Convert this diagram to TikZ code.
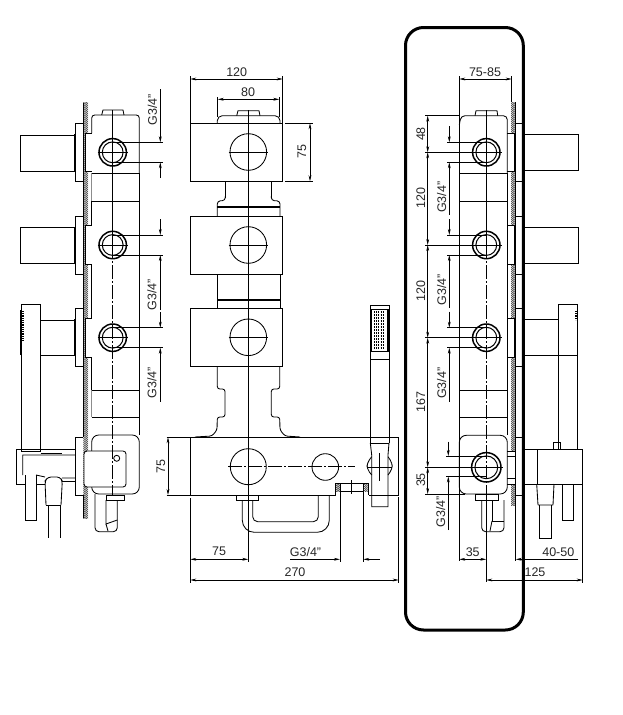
\documentclass[tikz,border=0pt]{standalone}
\usepackage{fontspec}
\setmainfont{Liberation Sans}
\usetikzlibrary{arrows.meta}
\tikzset{
  x=1pt,y=-1pt,
  ln/.style={line width=0.85pt,black},
  dim/.style={line width=0.65pt,black},
  arrs/.style={dim,{Stealth[length=6pt,width=2.8pt]}-{Stealth[length=6pt,width=2.8pt]}},
  arre/.style={dim,-{Stealth[length=6pt,width=2.8pt]}},
  center line/.style={line width=0.75pt,black,dash pattern=on 14pt off 2pt on 2pt off 2pt},
  lab/.style={inner sep=0pt,font=\fontsize{12.5pt}{13pt}\selectfont,text=black!85},
  rlab/.style={lab,rotate=90},
  soft/.style={line width=0.8pt,black!45},
}
\newcommand{\hatchbar}[4]{%
  \begin{scope}
    \clip (#1,#2) rectangle (#3,#4);
    \pgfmathtruncatemacro{\nn}{(#4-#2)/2+1}
    \foreach \k in {-4,...,\nn}{\draw[line width=0.4pt,black] (#1,#2+2*\k+6) -- (#3,#2+2*\k);}
  \end{scope}}
\newcommand{\ring}[3]{%
  \draw[line width=1.5pt] (#1,#2) circle[radius=#3pt-0.3pt];
  \draw[line width=1pt] (#1,#2) circle[radius=#3pt-3.6pt];}
\begin{document}
\begin{tikzpicture}[ln]
\useasboundingbox (0,0) rectangle (623,715);
\fill[white] (0,0) rectangle (623,715);

% ===== frame
\draw[line width=3pt,rounded corners=18pt] (405.5,27.5) rectangle (523.3,630);

% ===== LEFT VIEW
\hatchbar{83.3}{102.7}{88}{518}
\draw (83.3,102.7) -- (83.3,437) (83.3,495) -- (83.3,518);
% handles, flanges, cartridges
\draw (74.7,135) -- (20.3,135) -- (20.3,171.7) -- (74.7,171.7);
\draw (74.7,227.3) -- (20.3,227.3) -- (20.3,263.3) -- (74.7,263.3);
\draw (74.7,320.7) -- (40.7,320.7) (40.7,355) -- (74.7,355);
\foreach \a/\b/\c/\d in {123.3/181/133.3/171.7,216.7/274.3/225.7/264.3,308/366/318/357}{
  \draw (83.3,\a) -- (75.3,\a) -- (75.3,\b) -- (83.3,\b);
  \draw (74.7,\a+11) -- (74.7,\b-10);
  \fill[white] (85.3,\c) rectangle (91.7,\d);
  \draw (91.7,\c) -- (85.3,\c) -- (85.3,\d) -- (91.7,\d);
}
% body
\draw[rounded corners=3pt] (91.7,133) -- (91.7,115) -- (139.3,115) -- (139.3,173.3);
\draw (101.7,115) -- (103,110) -- (123,110) -- (124,115);
\draw (91.7,173.3) -- (139.3,173.3) (91.7,201.3) -- (139.3,201.3);
\draw[soft] (91.7,173.3) -- (91.7,201.3);
\draw (139.3,173.3) -- (139.3,435) (91.7,201.3) -- (91.7,225) (91.7,264) -- (91.7,318) (91.7,357) -- (91.7,390);
\draw (91.7,390) -- (139.3,390) (91.7,417.3) -- (139.3,417.3);
\draw[soft] (91.7,390) -- (91.7,417.3);
\fill[white,rounded corners=7pt] (91.7,435) rectangle (139.3,494);
\draw[rounded corners=7pt] (91.7,451) -- (91.7,435) -- (139.3,435) -- (139.3,494) -- (91.7,494) -- (91.7,486);
\fill[white,rounded corners=3pt] (84,451) rectangle (126,487);
\draw[rounded corners=3pt] (84,451) -- (126,451) -- (126,487) -- (84,487) -- cycle;
\draw (116.7,458.3) circle[radius=3pt];
\draw (83.3,437.3) -- (75.3,437.3) -- (75.3,495) -- (83.3,495);
% arm and bracket
\draw (75.3,455) -- (22.7,455) -- (22.7,475) (36,475) -- (45,477) (62,478) -- (75.3,478);
\draw (42,449) -- (16.3,449) -- (16.3,484) -- (25.3,484);
\draw (42,449) -- (75.3,449) (40.7,453) -- (62,453) (36.7,484) -- (45,484) (62,481) -- (75.3,481);
% hand shower
\draw (21.7,304.7) rectangle (40.3,451.7);
\draw[line width=1.2pt] (21.7,304.7) -- (40.3,304.7);
\draw[line width=1pt] (20.3,310) -- (20.3,355);
\draw[line width=1.4pt,dash pattern=on 1pt off 0.8pt] (23,311) -- (23,341);
% hoses
\draw (25.3,475) -- (25.3,520) -- (36.7,520) -- (36.7,475);
\draw[rounded corners=3pt] (46,505) -- (45,481) -- (48,477) -- (60,477) -- (62.3,481) -- (61,505);
\draw (46,505) -- (61,505) (48.3,505) -- (48.3,538) (60,505) -- (60,538);
% pipe below
\draw (106,495) rectangle (124,500);
\draw[rounded corners=4pt] (95,494) -- (95,531.7) -- (117.3,531.7) -- (117.3,500);
\draw (106,500) -- (106,524) -- (117.3,520);
\draw[rounded corners=3pt] (108,531) -- (106,524);
% circles, extension and dimension lines
\foreach \yy in {152.3,245,337.7}{
  \ring{112.7}{\yy}{14}
  \draw (97.5,\yy) -- (128,\yy);
  \draw (112.7,\yy-10) -- (163,\yy-10) (112.7,\yy+10) -- (163,\yy+10);
}
\draw (112.7,110) -- (112.7,245);
\draw[center line] (112.7,245) -- (112.7,495);
\draw[arre] (160.3,89) -- (160.3,142.3);
\draw[arre] (160.3,178) -- (160.3,162.3);
\draw[arre] (160.3,219) -- (160.3,235);
\draw[arre] (160.3,310) -- (160.3,255);
\draw[arre] (160.3,312) -- (160.3,327.7);
\draw[arre] (160.3,401.7) -- (160.3,347.7);
\node[rlab] (gl1) at (152.5,110) {G3/4"};
\node[rlab] (gl2) at (152,295) {G3/4"};
\node[rlab] (gl3) at (152,383) {G3/4"};
\draw (166.7,437.3) -- (190.3,437.3) (166.7,495.3) -- (190.3,495.3);
\draw[arrs] (168,437.3) -- (168,495);
\node[rlab] (d75l) at (161,466.5) {75};

% ===== MIDDLE VIEW
\foreach \a/\b/\cy in {123.3/181.3/152,216.3/274.3/245,308.3/366.3/337.3}{
  \draw (190.3,\a) rectangle (282.7,\b);
  \draw (248.3,\cy) circle[radius=18.3pt];
  \draw (228.5,\cy) -- (268,\cy);
}
\draw (190.3,437.3) rectangle (398.7,495.3);
\draw[white,line width=1.4pt] (335.7,495.3) -- (368.7,495.3);
\draw (248.3,466.7) circle[radius=18pt];
\draw (325.3,467) circle[radius=13.3pt];
\draw[center line] (228,466.7) -- (355,466.7);
\draw (248.3,110) -- (248.3,500);
% top plate
\draw[rounded corners=5pt] (217.3,123.3) -- (217.3,115.7) -- (280,115.7) -- (280,123.3);
\draw (236.7,115.7) -- (238,110.7) -- (259,110.7) -- (260,115.7);
% between boxes
\draw (225.3,181.3) -- (225.3,198);
\draw[rounded corners=3pt] (225.3,196) -- (225.3,200.5) -- (217.3,201) -- (217.3,216.3);
\draw (271.3,181.3) -- (271.3,198);
\draw[rounded corners=3pt] (271.3,196) -- (271.3,200.5) -- (280,201) -- (280,216.3);
\draw[line width=1.6pt] (217.3,207) -- (280,207);
\draw (217.3,274.3) -- (217.3,308.3) (280,274.3) -- (280,308.3);
\draw[line width=1.6pt] (217.3,300) -- (280,300);
\draw[rounded corners=2.5pt] (217.3,366.3) -- (217.3,389) -- (225,389) -- (225,417) -- (217.3,417) -- (217,430) -- (212,436) -- (195,437);
\draw[rounded corners=2.5pt] (279.7,366.3) -- (279.7,389) -- (271.3,389) -- (271.3,417) -- (279.7,417) -- (280,430) -- (285,436) -- (300,437);
% nut and U pipe
\draw (236.7,495.3) rectangle (258.7,500.7);
\draw[rounded corners=12pt] (242.3,500.7) -- (242.3,532.3) -- (329.3,532.3) -- (329.3,495.3);
\draw[rounded corners=5pt] (252.7,500.7) -- (252.7,521.7) -- (318.3,521.7) -- (318.3,495.3);
% notch
\draw (335.7,495.3) -- (335.7,483.3) -- (368.7,483.3) -- (368.7,495.3);
\draw (340,484) -- (340,491.7) (363.3,484) -- (363.3,491.7) (340,491.7) -- (363.3,491.7);
\hatchbar{336}{484}{340.5}{491.7}
\hatchbar{363}{484}{368.5}{491.7}
\draw (351,480) -- (351,494);
% shower
\draw (370.3,305) rectangle (389,359);
\draw (370.3,359) -- (370.3,443) (389,359) -- (389,443);
\draw (370.3,443) -- (389,443);
\draw[line width=1.1pt] (371.2,309.3) rectangle (388,351.7);
\foreach \yy in {312,315,...,348}{
  \draw[line width=1.1pt,dash pattern=on 1pt off 1.2pt] (374,\yy) -- (385,\yy);
}
\draw (370.3,443) -- (371.7,455) -- (371.7,506.7) -- (388,506.7) -- (388,455) -- (389,443);
\draw[rounded corners=4pt] (371.7,456.7) -- (367,463) -- (367,469) -- (371.7,475);
\draw[rounded corners=4pt] (388,456.7) -- (392.3,463) -- (392.3,469) -- (388,475);
\draw (379.3,453) -- (379.3,480.7);
\draw (366.7,467) -- (392.3,467);
% dimensions top
\draw[dim] (190.3,76) -- (190.3,123.3) (282.7,76) -- (282.7,123.3);
\draw[arrs] (190.3,79) -- (282.7,79);
\node[lab] (d120) at (236.7,71.7) {120};
\draw[dim] (217.7,97) -- (217.7,117) (279.3,97) -- (279.3,117);
\draw[arrs] (217.7,99.3) -- (279.3,99.3);
\node[lab] (d80) at (248,91.7) {80};
\draw[dim] (285,123.3) -- (312.7,123.3) (285,181.3) -- (312.7,181.3);
\draw[arrs] (310,123.3) -- (310,181.3);
\node[rlab] (d75r) at (302,151.7) {75};
% dimensions bottom
\draw[dim] (190.3,498) -- (190.3,582.7) (248.3,500) -- (248.3,561.7) (398.7,497) -- (398.7,582.7);
\draw[dim] (340,491.7) -- (340,562) (363.3,491.7) -- (363.3,562);
\draw[arrs] (190.3,559.3) -- (248.3,559.3);
\node[lab] (d75b) at (219,551.7) {75};
\draw[arre] (290,559.3) -- (340,559.3);
\draw[arre] (380,559.3) -- (363.3,559.3);
\node[lab] (dgb) at (305.5,551.7) {G3/4"};
\draw[arrs] (190.3,580) -- (398.7,580);
\node[lab] (d270) at (295,572.3) {270};

% ===== RIGHT VIEW
\hatchbar{511}{102.3}{515.7}{505}
\draw (515.7,102.3) -- (515.7,505);
\foreach \a/\b/\c/\d in {123.3/181/133.3/171,216/274.3/225.7/264,308.3/366.3/318.3/357.7}{
  \draw (515.7,\a) -- (523,\a) (515.7,\b) -- (523,\b);
  \fill[white] (507.3,\c) rectangle (514,\d);
  \draw (507.3,\c) -- (514,\c) -- (514,\d) -- (507.3,\d);
}
\draw (515.7,437) -- (523,437) (515.7,495) -- (523,495);
\fill[white] (507.3,451) rectangle (515.7,484);
\draw (507.3,451) -- (515.7,451) (507.3,456) -- (515.7,456) (507.3,478) -- (515.7,478) (507.3,484) -- (515.7,484) (515.7,451) -- (515.7,484);
% handles
\draw (524.3,134.3) -- (578.3,134.3) -- (578.3,170.3) -- (524.3,170.3);
\draw (524.3,227.3) -- (578.3,227.3) -- (578.3,263.3) -- (524.3,263.3);
\draw (524.3,319.3) -- (558.3,319.3) (524.3,355) -- (578,355);
% shower
\draw (558.3,449) -- (558.3,304.3) -- (577.3,304.3) -- (577.3,449);
\draw[line width=1.2pt,dash pattern=on 1pt off 0.8pt] (576,311) -- (576,320);
\draw (553.3,449) -- (553.3,442.3) -- (560.7,442.3) -- (560.7,449);
% block
\draw (537.7,449.3) rectangle (582.7,484);
\draw (524.3,449.3) -- (537.7,449.3) (524.3,484) -- (537.7,484);
\draw (536.7,484) -- (538,505) (554,484) -- (553,505) (538,505) -- (553,505);
\draw (539,505) -- (539,538.3) (551.7,505) -- (551.7,538.3) (539,538.3) -- (551.7,538.3);
\draw (562.3,484) -- (562.3,520) -- (573.3,520) -- (573.3,484);
% body
\draw[rounded corners=4pt] (459.3,125) -- (461,115.7) -- (507.3,115.7) -- (507.3,173.3);
\draw (475,115.7) -- (476,110.7) -- (497,110.7) -- (497.7,115.7);
\draw (459.3,76) -- (459.3,560.7);
\draw (507.3,173.3) -- (507.3,435);
\draw (459.3,173.3) -- (507.3,173.3) (459.3,201.3) -- (507.3,201.3);
\draw (459.3,390) -- (507.3,390) (459.3,417.3) -- (507.3,417.3);
\draw[rounded corners=7pt] (459.3,435.3) rectangle (507.3,494);
\draw (475.3,494) rectangle (498.7,500);
\draw[rounded corners=4pt] (481.7,500) -- (481.7,531.7) -- (504,531.7) -- (504,500);
\draw (492,500) -- (492,521) -- (504,521);
\draw[rounded corners=3pt] (492,521) -- (490,531);
% circles
\foreach \yy in {152.3,245,337.7}{
  \ring{486.3}{\yy}{14}
  \draw (425,\yy) -- (501.7,\yy);
  \draw (447,\yy-10) -- (486.3,\yy-10) (447,\yy+10) -- (486.3,\yy+10);
}
\ring{486.3}{467.3}{15}
\draw (425,467.3) -- (503,467.3);
\draw (446,456) -- (486.3,456) (446,476.5) -- (486.3,476.5);
\draw (486.3,110) -- (486.3,245);
\draw[center line] (486.3,245) -- (486.3,495);
\draw (486.3,495) -- (486.3,582);
% left dims
\draw[dim] (425,115.7) -- (459.3,115.7) (425,494) -- (465,494);
\draw[arrs] (427.7,115.7) -- (427.7,152.3);
\draw[arrs] (427.7,152.3) -- (427.7,245);
\draw[arrs] (427.7,245) -- (427.7,337.7);
\draw[arrs] (427.7,337.7) -- (427.7,467.3);
\draw[arrs] (427.7,467.3) -- (427.7,494);
\node[rlab] (r48) at (420.7,134) {48};
\node[rlab] (r120a) at (420.7,198) {120};
\node[rlab] (r120b) at (420.7,291) {120};
\node[rlab] (r167) at (420.7,401.7) {167};
\node[rlab] (r35) at (420.7,480) {35};
\draw[arre] (449.3,126) -- (449.3,142.3);
\draw[arre] (449.3,215) -- (449.3,162.3);
\draw[arre] (449.3,219) -- (449.3,235);
\draw[arre] (449.3,308) -- (449.3,255);
\draw[arre] (449.3,311.7) -- (449.3,327.7);
\draw[arre] (449.3,401.7) -- (449.3,347.7);
\draw[arre] (448.3,441.7) -- (448.3,456);
\draw[arre] (448.3,530) -- (448.3,476.5);
\node[rlab] (rg1) at (441.7,197.3) {G3/4"};
\node[rlab] (rg2) at (441.7,290) {G3/4"};
\node[rlab] (rg3) at (441.7,383.3) {G3/4"};
\node[rlab] (rg4) at (440.7,511.7) {G3/4"};
% top and bottom dims
\draw[dim] (511.7,76) -- (511.7,102.3);
\draw[arrs] (459.3,79) -- (511.7,79);
\node[lab] (r7585) at (485,71.7) {75-85};
\draw[arrs] (459.3,559.3) -- (486.3,559.3);
\node[lab] (r35b) at (472.7,551.7) {35};
\draw[dim] (515.7,505) -- (515.7,561);
\draw[arre] (578.3,559.3) -- (515.7,559.3);
\node[lab] (r4050) at (558.3,551.7) {40-50};
\draw[dim] (582.7,484) -- (582.7,582.7);
\draw[arrs] (486.3,580) -- (582.7,580);
\node[lab] (r125) at (535,572.3) {125};
\end{tikzpicture}
\end{document}
